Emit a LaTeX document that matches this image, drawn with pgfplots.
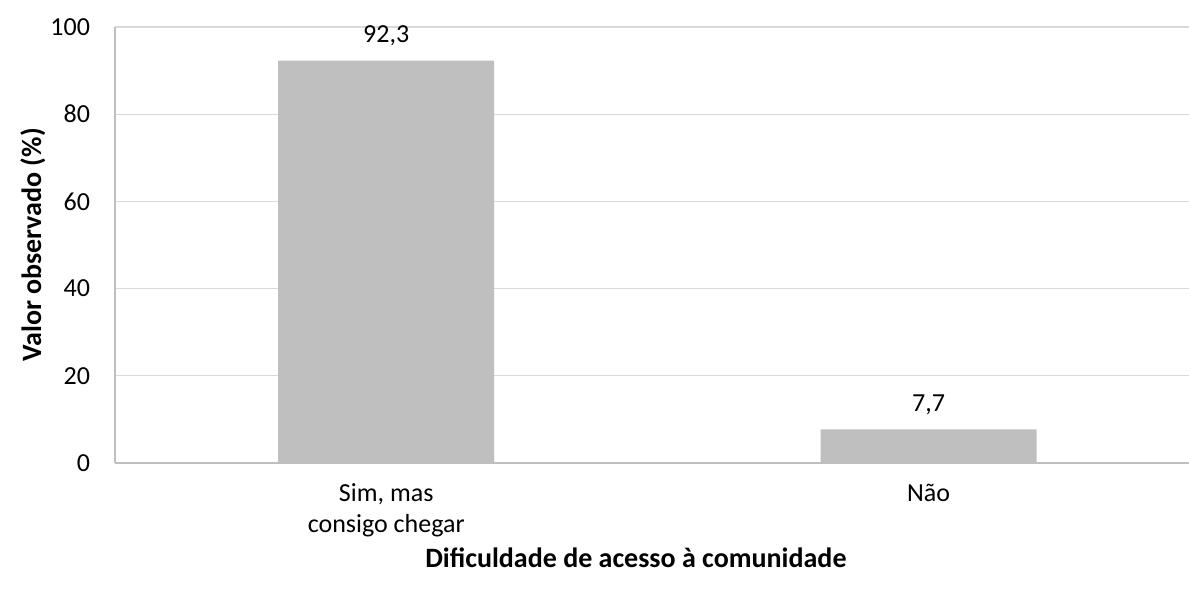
\documentclass[border=0pt]{standalone}
\usepackage{pgfplots}
\pgfplotsset{compat=1.18}
\usepackage{fontspec}
\setmainfont{Carlito}
\definecolor{barc}{HTML}{BFBFBF}
\definecolor{gridc}{HTML}{D9D9D9}
\definecolor{axc}{HTML}{BFBFBF}
\begin{document}
\fontsize{13}{15.6}\selectfont
\begin{tikzpicture}
\begin{axis}[
  at={(0,0)}, anchor=south west,
  scale only axis,
  width=537pt, height=218pt,
  xmin=-0.5, xmax=1.48,
  ymin=0, ymax=100,
  ytick={0,20,40,60,80,100},
  ymajorgrids,
  grid style={gridc, line width=0.6pt},
  axis x line*=bottom,
  axis y line*=left,
  axis line style={axc, line width=0.8pt},
  ytick style={draw=none},
  xtick={0,1},
  xticklabels={{Sim, mas\\consigo chegar},{N\~ao}},
  xticklabel style={align=center, font=\fontsize{13}{15.5}\selectfont, yshift=-6pt},
  xtick style={draw=none},
  extra x ticks={-0.5,0.5},
  extra x tick labels={},
  extra x tick style={tick align=outside, major tick length=4pt, xtick style={axc, line width=0.8pt}, xticklabel=\empty, grid=none},
  /pgf/number format/assume math mode=true,
  /pgf/number format/use comma,
  xlabel={\fontsize{14}{17}\selectfont\textbf{Dificuldade de acesso à comunidade}},
  ylabel={\fontsize{14}{17}\selectfont\textbf{Valor observado (\%)}},
  xlabel style={at={(axis description cs:0.485,-0.218)}, anchor=center},
  ylabel style={at={(axis description cs:-0.0764,0.5)}, anchor=center},
  yticklabel style={xshift=-8pt, font=\fontsize{13}{15.6}\selectfont},
  nodes near coords,
  nodes near coords style={/pgf/number format/fixed, /pgf/number format/precision=1, /pgf/number format/fixed zerofill, /pgf/number format/use comma, font=\fontsize{13}{15.6}\selectfont, yshift=3pt},
  clip=false,
]
\addplot[ybar, bar width=108pt, fill=barc, draw=none] coordinates {(0,92.3) (1,7.7)};
\end{axis}
\pgfresetboundingbox
\path (-57.5pt,-66.5pt) rectangle (537pt,231.5pt);
\end{tikzpicture}
\end{document}
